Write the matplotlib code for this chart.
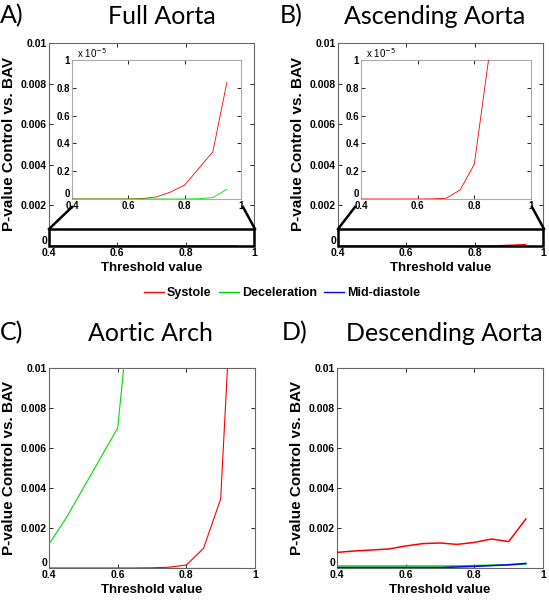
import matplotlib
matplotlib.use("Agg")
import matplotlib.pyplot as plt
from matplotlib.lines import Line2D
from matplotlib.patches import Rectangle
from matplotlib.ticker import FuncFormatter

W, H = 549, 600

threshold = [0.4, 0.45, 0.5, 0.55, 0.6, 0.65, 0.7, 0.75, 0.8, 0.85, 0.9, 0.95]

# A) Full Aorta
full_systole = [0, 0, 0, 0, 0, 0.003e-5, 0.015e-5, 0.05e-5, 0.10e-5, 0.22e-5, 0.34e-5, 0.84e-5]
full_decel = [0, 0, 0, 0, 0, 0, 0, 0, 0, 0.002e-5, 0.01e-5, 0.07e-5]
full_middia = [0] * 12

# B) Ascending Aorta
asc_systole = [0, 0, 0, 0, 0, 0.001e-5, 0.005e-5, 0.065e-5, 0.25e-5, 1.0e-5, 4e-5, 8e-5]
asc_decel = [0] * 12
asc_middia = [0] * 12

# C) Aortic Arch
arch_systole = [0, 0, 0, 0, 0, 0, 0.00001, 0.00004, 0.00015, 0.00098, 0.00345, 0.02]
arch_decel = [0.0012, 0.0025, 0.004, 0.0055, 0.007, 0.0155, 0.03, 0.05, 0.08, 0.1, 0.15, 0.2]
arch_middia = [0] * 12

# D) Descending Aorta
desc_systole = [0.00078, 0.00085, 0.0009, 0.00095, 0.0011, 0.00122, 0.00125, 0.00118,
                0.00128, 0.00145, 0.00132, 0.00245]
desc_decel = [0.0001, 0.0001, 0.0001, 0.0001, 0.0001, 0.0001, 0.0001, 0.0001,
              0.00012, 0.00014, 0.00016, 0.0002]
desc_middia = [0.00002, 0.00002, 0.00002, 0.00002, 0.00002, 0.00002, 0.00002, 0.00005,
               0.00008, 0.00012, 0.00016, 0.00023]

series_names = ["Systole", "Deceleration", "Mid-diastole"]
series_colors = ["#ff0000", "#00dd00", "#0000ff"]

main_yticks = [0, 0.002, 0.004, 0.006, 0.008, 0.01]
main_ylabels = ["0", "0.002", "0.004", "0.006", "0.008", "0.01"]
xticks = [0.4, 0.6, 0.8, 1.0]
xlabels = ["0.4", "0.6", "0.8", "1"]
inset_yticks = [0, 0.2e-5, 0.4e-5, 0.6e-5, 0.8e-5, 1e-5]
inset_ylabels = ["0", "0.2", "0.4", "0.6", "0.8", "1"]

FONT = ["Liberation Sans", "DejaVu Sans"]
title_font = ["Lato", "DejaVu Sans"]

fig = plt.figure(figsize=(W / 100, H / 100), dpi=100)


def px_axes(x0, y0, x1, y1):
    # pixel box (top-left origin) -> figure axes
    return fig.add_axes([x0 / W, 1 - y1 / H, (x1 - x0) / W, (y1 - y0) / H])


def style(ax, edge="#666666", size=8):
    for s in ax.spines.values():
        s.set_color(edge)
        s.set_linewidth(0.8)
    ax.tick_params(direction="in", top=True, right=True, length=3, width=0.6,
                   pad=1.5, labelsize=size, colors="black")
    for lab in ax.get_xticklabels() + ax.get_yticklabels():
        lab.set_family(FONT)
        lab.set_fontweight("bold")
    # the "0" sits just above the corner, like matlab does
    ax.get_yticklabels()[0].set_verticalalignment("bottom")


def draw(ax, sys_, dec_, mid_, lw=0.8):
    ax.plot(threshold, sys_, color=series_colors[0], lw=lw, zorder=3)
    ax.plot(threshold, dec_, color=series_colors[1], lw=lw, zorder=3)
    ax.plot(threshold, mid_, color=series_colors[2], lw=lw, zorder=3)


def main_panel(box, sys_, dec_, mid_, lw=0.8):
    ax = px_axes(*box)
    w = box[2] - box[0]
    h = box[3] - box[1]
    draw(ax, sys_, dec_, mid_, lw)
    ax.set_xlim(0.4, 1)
    ax.set_ylim(0, 0.01)
    ax.set_xticks(xticks)
    ax.set_xticklabels(xlabels)
    ax.set_yticks(main_yticks)
    ax.set_yticklabels(main_ylabels)
    style(ax, size=7.5)
    ax.set_xlabel("Threshold value", fontsize=9.5, family=FONT, fontweight="bold")
    ax.set_ylabel("P-value Control vs. BAV", fontsize=11, family=FONT, fontweight="bold")
    ax.xaxis.set_label_coords(0.5, -16 / h)
    ax.yaxis.set_label_coords(-33 / w, 0.5)
    return ax


def inset_panel(box, sys_, dec_, mid_):
    ax = px_axes(*box)
    draw(ax, sys_, dec_, mid_, lw=0.6)
    ax.set_xlim(0.4, 1)
    ax.set_ylim(0, 1e-5)
    ax.set_xticks(xticks)
    ax.set_xticklabels(xlabels)
    ax.set_yticks(inset_yticks)
    ax.set_yticklabels(inset_ylabels)
    style(ax, edge="#aaaaaa", size=7)
    ax.text(0.03, 1.0, r"x 10$^{-5}$", transform=ax.transAxes, fontsize=7,
            family=FONT, va="bottom", ha="left")
    return ax


def zoom_marks(ax, lx, rx, top_y):
    rect = Rectangle((0.4, 0), 0.6, 0.00082, fill=False, lw=1.8, ec="black",
                     clip_on=False, zorder=5)
    ax.add_patch(rect)
    for (xa, xb) in [lx, rx]:
        fig.add_artist(Line2D([xa / W, xb / W], [1 - 207 / H, 1 - top_y / H],
                              color="black", lw=1.8))


# panels
axA = main_panel((49, 43, 254, 246), full_systole, full_decel, full_middia)
zoom_marks(axA, (72, 49), (243, 255), 229)
inset_panel((72, 60, 241, 199), full_systole, full_decel, full_middia)

axB = main_panel((338, 43, 543, 246), asc_systole, asc_decel, asc_middia)
zoom_marks(axB, (355, 338), (532, 544), 229)
inset_panel((361, 60, 531, 199), asc_systole, asc_decel, asc_middia)

axC = main_panel((49, 368, 255, 568), arch_systole, arch_decel, arch_middia)
axD = main_panel((337, 368, 543, 568), desc_systole, desc_decel, desc_middia, lw=1.1)

# titles
for x, y, s in [(0, 16, "A)"), (280, 16, "B)"), (0, 333, "C)"), (282, 333, "D)")]:
    fig.text(x / W, 1 - y / H, s, fontsize=18, family=title_font, va="center", ha="left")
for x, y, s in [(162, 16, "Full Aorta"), (435, 16, "Ascending Aorta"),
                (150, 333, "Aortic Arch"), (444, 333, "Descending Aorta")]:
    fig.text(x / W, 1 - y / H, s, fontsize=18, family=title_font, va="center", ha="center")

handles = [Line2D([], [], color=c, lw=1) for c in series_colors]
leg = fig.legend(handles, series_names, loc="center", bbox_to_anchor=(282 / W, 1 - 293 / H),
                 ncol=3, frameon=False, handlelength=1.6, handletextpad=0.25,
                 columnspacing=0.6, prop={"family": FONT, "weight": "bold", "size": 9})

fig.savefig("out.png", dpi=100, facecolor="white")
